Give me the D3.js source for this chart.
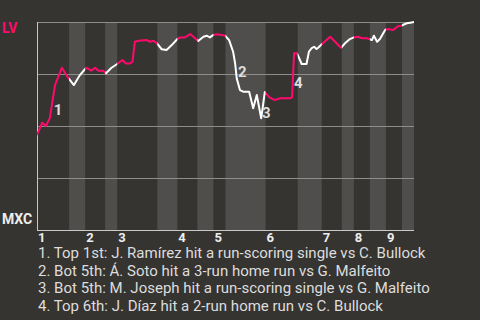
<!DOCTYPE html>
<html>
<head>
<meta charset="utf-8">
<script src="https://cdn.jsdelivr.net/npm/d3@7"></script>
<style>
  body { margin: 0; background: #363430; }
  svg { display: block; font-family: Roboto, "Noto Sans", sans-serif; }
</style>
</head>
<body>
<div id="graphic"></div>
<script>
// half-inning start positions (plate appearance index), last value is the end
const halfInningStarts = [0, 8, 12, 17, 20, 30, 35, 40, 44, 47, 57, 65, 71, 76, 79, 83, 87, 91, 94];
const inningLabels = ["1", "2", "3", "4", "5", "6", "7", "8", "9"];

// LV win probability after each plate appearance
const paIndex = [0, 1.3, 2.2, 3.2, 3.8, 4.5, 5.2, 6.2, 7.8, 9.2, 10.7, 12.0, 12.4, 13.5, 14.5, 15.3,
  16.5, 17.2, 18.5, 19.9, 21.3, 22.1, 23.2, 23.8, 24.4, 25.3, 27.4, 28.2, 29.0, 29.8, 31.1, 32.3,
  33.6, 35.0, 35.7, 36.9, 38.2, 39.4, 40.2, 41.5, 42.3, 43.1, 44.0, 44.8, 46.1, 46.9, 47.9, 48.9,
  49.4, 49.8, 50.6, 51.4, 52.9, 53.9, 54.8, 55.9, 56.8, 57.9, 59.2, 60.7, 63.1, 63.6, 64.1, 64.8,
  66.0, 67.2, 67.8, 68.5, 69.1, 69.7, 70.1, 71.0, 73.1, 75.8, 76.8, 78.0, 79.0, 80.1, 81.0, 82.2,
  82.8, 83.5, 84.0, 84.8, 85.5, 86.8, 87.3, 88.8, 90.1, 90.8, 92.2, 93.4, 94];
const lvWinProb = [0.457, 0.516, 0.500, 0.538, 0.611, 0.697, 0.731, 0.780, 0.731, 0.697, 0.745, 0.774, 0.780, 0.766, 0.780, 0.766,
  0.766, 0.753, 0.779, 0.797, 0.817, 0.801, 0.801, 0.808, 0.905, 0.910, 0.913, 0.905, 0.910, 0.900, 0.869, 0.865,
  0.889, 0.918, 0.926, 0.926, 0.942, 0.922, 0.909, 0.929, 0.934, 0.926, 0.938, 0.941, 0.938, 0.934, 0.913, 0.857,
  0.801, 0.729, 0.673, 0.665, 0.665, 0.585, 0.649, 0.537, 0.663, 0.639, 0.625, 0.633, 0.633, 0.639, 0.850, 0.850,
  0.798, 0.798, 0.857, 0.874, 0.881, 0.870, 0.876, 0.893, 0.929, 0.876, 0.898, 0.918, 0.926, 0.929, 0.922, 0.922,
  0.918, 0.913, 0.934, 0.905, 0.918, 0.962, 0.966, 0.962, 0.981, 0.982, 0.994, 0.998, 1.0];

// key plays
const eventNums = ["1", "2", "3", "4"];
const eventPA = [4.2, 50.1, 56.1, 64.1];
const eventLabelProb = [0.553, 0.736, 0.538, 0.683];
const eventTexts = [
  "1. Top 1st: J. Ramírez hit a run-scoring single vs C. Bullock",
  "2. Bot 5th: Á. Soto hit a 3-run home run vs G. Malfeito",
  "3. Bot 5th: M. Joseph hit a run-scoring single vs G. Malfeito",
  "4. Top 6th: J. Díaz hit a 2-run home run vs C. Bullock"
];

const gridProbs = [0.25, 0.5, 0.75];
const awayTeam = "LV";
const homeTeam = "MXC";

const pink = "#ff0a6c";
const width = 480, height = 320;
const margin = {top: 22, right: 66, bottom: 90, left: 37};

var svg = d3.select("#graphic").append("svg")
        .attr("width", width)
        .attr("height", height);

var x = d3.scaleLinear()
        .domain([0, halfInningStarts[halfInningStarts.length - 1]])
        .range([margin.left, width - margin.right]);

var y = d3.scaleLinear()
        .domain([0, 1])
        .range([height - margin.bottom, margin.top]);

// half-inning bands, bottom halves lighter
var halves = d3.range(halfInningStarts.length - 1).map(i => ({
        i: i, x0: halfInningStarts[i], x1: halfInningStarts[i + 1]
}));

svg.append("g").selectAll("rect")
        .data(halves.filter(d => d.i % 2 == 1))
        .join("rect")
        .attr("x", d => x(d.x0))
        .attr("y", y(1))
        .attr("width", d => x(d.x1) - x(d.x0))
        .attr("height", y(0) - y(1))
        .attr("fill", "#4f4e4c");

// clip paths so line is pink in top halves, white in bottom halves
var defs = svg.append("defs");
[0, 1].forEach(k => {
  defs.append("clipPath")
        .attr("id", "clip-" + k)
        .selectAll("rect")
        .data(halves.filter(d => d.i % 2 == k))
        .join("rect")
        .attr("x", d => x(d.x0))
        .attr("y", 0)
        .attr("width", d => x(d.x1) - x(d.x0))
        .attr("height", height);
});

// gridlines
svg.append("g").selectAll("line")
        .data(gridProbs.concat([1]))
        .join("line")
        .attr("x1", x.range()[0])
        .attr("x2", x.range()[1])
        .attr("y1", d => Math.round(y(d)) + 0.5)
        .attr("y2", d => Math.round(y(d)) + 0.5)
        .attr("stroke", "#8e8d8b")
        .attr("stroke-width", 1);

// axis lines
svg.append("line")
        .attr("x1", x.range()[0] + 0.5).attr("x2", x.range()[0] + 0.5)
        .attr("y1", y(1)).attr("y2", y(0) + 1)
        .attr("stroke", "#c8c8c8");
svg.append("line")
        .attr("x1", x.range()[0]).attr("x2", x.range()[1])
        .attr("y1", y(0) + 0.5).attr("y2", y(0) + 0.5)
        .attr("stroke", "#c8c8c8");

// win probability line
var points = paIndex.map((d, i) => [d, lvWinProb[i]]);
var line = d3.line()
        .x(d => x(d[0]))
        .y(d => y(d[1]));

[[0, pink], [1, "#ffffff"]].forEach(([k, c]) => {
  svg.append("path")
        .datum(points)
        .attr("d", line)
        .attr("fill", "none")
        .attr("stroke", c)
        .attr("stroke-width", 2)
        .attr("stroke-linejoin", "round")
        .attr("clip-path", "url(#clip-" + k + ")");
});

// event numbers
svg.append("g").selectAll("text")
        .data(eventNums)
        .join("text")
        .attr("x", (d, i) => x(eventPA[i]))
        .attr("y", (d, i) => y(eventLabelProb[i]))
        .attr("fill", "#dddddd")
        .attr("font-size", 15)
        .attr("font-weight", "bold")
        .text(d => d);

// team labels
svg.append("text")
        .attr("x", 2).attr("y", y(1) + 11)
        .attr("fill", pink)
        .attr("font-size", 14)
        .attr("font-weight", "bold")
        .text(awayTeam);
svg.append("text")
        .attr("x", 2).attr("y", y(0) - 6)
        .attr("fill", "#eeeeee")
        .attr("font-size", 14)
        .attr("font-weight", "bold")
        .text(homeTeam);

// inning numbers at start of each top half
svg.append("g").selectAll("text")
        .data(inningLabels)
        .join("text")
        .attr("x", (d, i) => x(halfInningStarts[i * 2]) + 1)
        .attr("y", y(0) + 12)
        .attr("fill", "#eeeeee")
        .attr("font-size", 13)
        .attr("font-weight", "bold")
        .text(d => d);

// key play descriptions
svg.append("g").selectAll("text")
        .data(eventTexts)
        .join("text")
        .attr("x", 38)
        .attr("y", (d, i) => 258 + i * 17.7)
        .attr("fill", "#dddddd")
        .attr("font-size", 15)
        .text(d => d);
</script>
</body>
</html>
